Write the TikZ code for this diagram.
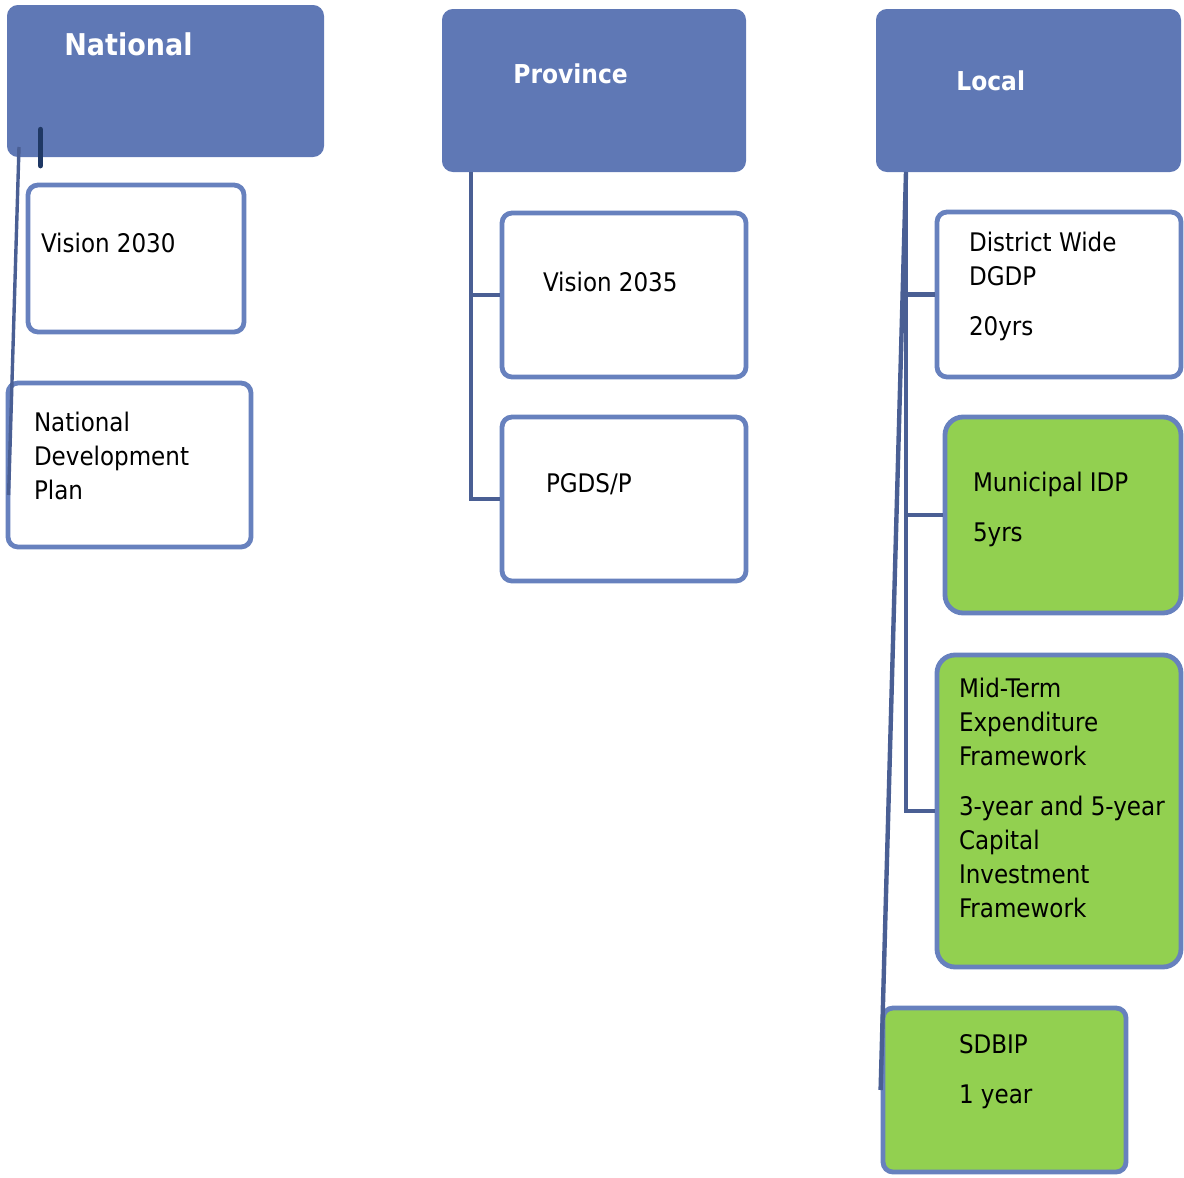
\documentclass[tikz,border=0pt]{standalone}
\usepackage{fontspec}
\setmainfont{DejaVu Sans Condensed}
\usepackage{tikz}
\usetikzlibrary{positioning,calc,fit}

\definecolor{headblue}{RGB}{95,120,181}
\definecolor{edgeblue}{RGB}{103,129,190}
\definecolor{linkblue}{RGB}{74,95,148}
\definecolor{stubnavy}{RGB}{31,56,100}
\definecolor{leafgreen}{RGB}{146,208,80}

\begin{document}
\begin{tikzpicture}[x=0.5pt, y=-0.5pt,
  head/.style={rectangle, fill=headblue, draw=headblue, line width=1pt, rounded corners=5pt, inner sep=0pt},
  box/.style={rectangle, draw=edgeblue, fill=white, line width=2.4pt, rounded corners=5pt, inner sep=0pt},
  greenbox/.style={box, fill=leafgreen, rounded corners=9pt},
  headtxt/.style={inner sep=0pt, text=white, font=\fontsize{13}{16}\selectfont\bfseries},
  txt/.style={inner sep=0pt, align=left, font=\fontsize{12.8}{17}\selectfont},
  link/.style={draw=linkblue, line width=2.2pt},
  stub/.style={draw=stubnavy, line width=2.8pt, line cap=round},
]
\useasboundingbox (0,0) rectangle (1184,1178);

\node[head, fit={(8,6) (323,156)}] (nat) {};
\node[box, fit={(28,185) (244,332)}] (v30) {};
\node[box, fit={(8,383) (251,547)}] (ndp) {};

\node[head, fit={(443,10) (745,171)}] (prov) {};
\node[box, fit={(502,213) (746,377)}] (v35) {};
\node[box, fit={(502,417) (746,581)}] (pgds) {};

\node[head, fit={(877,10) (1180,171)}] (loc) {};
\node[box, fit={(937,212) (1181,377)}] (dgdp) {};
\node[greenbox, fit={(945,417) (1181,613)}] (idp) {};
\node[greenbox, fit={(937,655) (1181,967)}] (mtef) {};
\node[box, fill=leafgreen, fit={(883,1008) (1126,1172)}] (sdbip) {};

\node[headtxt, font=\fontsize{15}{18}\selectfont\bfseries, below right=13.5pt and 28.5pt of nat.north west] (nattxt) {National};
\node[headtxt, below right=27pt and 35.5pt of prov.north west] (provtxt) {Province};
\node[headtxt, below right=30.5pt and 40pt of loc.north west] (loctxt) {Local};

\node[txt, below right=25pt and 7.5pt of v30.north west] (v30txt) {Vision 2030};
\node[txt, below right=15.5pt and 14pt of ndp.north west] (ndptxt) {National\\Development\\Plan};
\node[txt, below right=30.5pt and 21.5pt of v35.north west] (v35txt) {Vision 2035};
\node[txt, below right=29pt and 23pt of pgds.north west] (pgdstxt) {PGDS/P};
\node[txt, below right=11pt and 17pt of dgdp.north west] (dgdptxt) {District Wide\\DGDP\\[8pt]20yrs};
\node[txt, below right=28.5pt and 15pt of idp.north west] (idptxt) {Municipal IDP\\[8pt]5yrs};
\node[txt, below right=12.5pt and 12pt of mtef.north west] (meftxt) {Mid-Term\\Expenditure\\Framework\\[8pt]3-year and 5-year\\Capital\\Investment\\Framework};
\node[txt, below right=14pt and 39pt of sdbip.north west] (sdbiptxt) {SDBIP\\[8pt]1 year};

\draw[link, line width=1.7pt] ($(nat.south west)+(12,-10)$) -- ($(ndp.west)+(3,30)$);
\draw[stub] ($(v30.north west)+(15,-53)$) -- ($(v30.north west)+(15,-17)$);

\coordinate (provroot) at ($(prov.south west)+(29,0)$);
\draw[link] (provroot) |- (pgds.west);
\draw[link] (provroot |- v35.west) -- (v35.west);

\coordinate (locroot) at ($(loc.south west)+(30,0)$);
\draw[link] (locroot) |- (mtef.west);
\draw[link] (locroot |- dgdp.west) -- (dgdp.west);
\draw[link] (locroot |- idp.west) -- (idp.west);
\draw[link] (locroot) -- (sdbip.west);
\end{tikzpicture}
\end{document}
